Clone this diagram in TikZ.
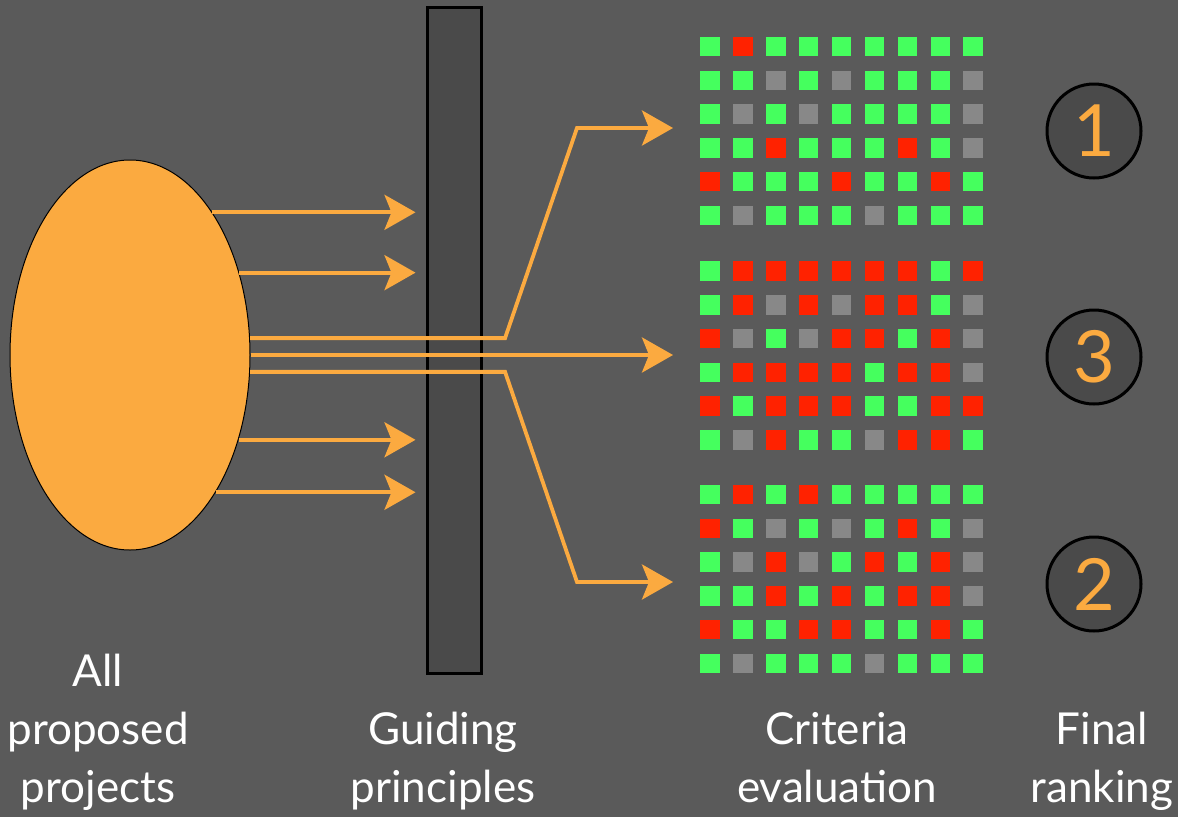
\documentclass[tikz,border=0pt]{standalone}
\usepackage{fontspec}
\setmainfont{Lato}
\usetikzlibrary{arrows.meta,shapes.geometric}

\definecolor{bgcol}{RGB}{90,90,90}
\definecolor{darkcol}{RGB}{74,74,74}
\definecolor{flowcol}{RGB}{251,170,64}
\definecolor{cellg}{RGB}{69,255,94}
\definecolor{cellr}{RGB}{255,34,0}
\definecolor{cellx}{RGB}{136,136,136}

\tikzset{
  flow/.style={draw=flowcol, line width=3.8pt, -{Stealth[length=31pt,width=35pt,inset=7pt]}},
  cell/.style={rectangle, inner sep=0pt, minimum size=19.5pt, fill=cell#1},
  rank/.style={circle, draw=black, line width=3pt, fill=darkcol, minimum size=94pt, inner sep=0pt, text=flowcol, font=\fontsize{72}{72}\selectfont},
  bottomtext/.style={anchor=south, align=center, inner sep=0pt, text=white, font=\fontsize{44}{58}\selectfont}
}

\begin{document}
\begin{tikzpicture}[x=1pt, y=-1pt]
        % Background
        \fill[bgcol] (0,0) rectangle (1178,817);
        \useasboundingbox (0,0) rectangle (1178,817);
        % Projects and filter
        \node[ellipse, draw=black, line width=1pt, fill=flowcol, minimum width=240pt, minimum height=390pt, inner sep=0pt] (proj) at (130,355) {};
        \node[rectangle, draw=black, line width=3pt, fill=darkcol, minimum width=54pt, minimum height=666pt, inner sep=0pt] (bar) at (454,340) {};
        % Rejected projects
        \foreach \a in {60,37.5,-38.2,-58.9} {
            \draw[flow] (proj.\a) -- ([xshift=-10pt]proj.\a -| bar.west);
        }
        % Projects passing the filter
        \coordinate (in1) at (673,128);
        \coordinate (in3) at (673,355);
        \coordinate (in2) at (673,582);
        \draw[flow] (proj.8.6) -- +(255pt,0) -- ([xshift=-96pt]in1) -- (in1);
        \draw[flow] (proj.0) -- (in3);
        \draw[flow] (proj.-8.1) -- +(255pt,0) -- ([xshift=-96pt]in2) -- (in2);
        % Criteria grids
        \foreach \cells [count=\j from 0] in {{g,r,g,g,g,g,g,g,g},{g,g,x,g,x,g,g,g,x},{g,x,g,x,g,g,g,g,x},{g,g,r,g,g,g,r,g,x},{r,g,g,g,r,g,g,r,g},{g,x,g,g,g,x,g,g,g}} {
            \foreach \c [count=\i from 0] in \cells
                \node[cell=\c] (a-\j-\i) at (710+32.9*\i, 46.5+33.8*\j) {};
        }
        \foreach \cells [count=\j from 0] in {{g,r,r,r,r,r,r,g,r},{g,r,x,r,x,r,r,g,x},{r,x,g,x,r,r,g,r,x},{g,r,r,r,r,g,r,r,x},{r,g,r,r,r,g,g,r,r},{g,x,r,g,g,x,r,r,g}} {
            \foreach \c [count=\i from 0] in \cells
                \node[cell=\c] (b-\j-\i) at (710+32.9*\i, 271+33.8*\j) {};
        }
        \foreach \cells [count=\j from 0] in {{g,r,g,r,g,g,g,g,g},{r,g,x,g,x,g,r,g,x},{g,x,r,x,g,r,g,r,x},{g,g,r,g,r,g,r,r,x},{r,g,g,r,r,g,g,r,g},{g,x,g,g,g,x,g,g,g}} {
            \foreach \c [count=\i from 0] in \cells
                \node[cell=\c] (c-\j-\i) at (710+32.9*\i, 494.5+33.8*\j) {};
        }
        % Ranking
        \node[rank] (rank1) at (1094,131) {1};
        \node[rank] (rank3) at (1094,357) {3};
        \node[rank] (rank2) at (1094,584) {2};
        % Column labels
        \node[bottomtext] (lblproj) at (98,820) {All\\proposed\\projects\strut};
        \node[bottomtext] (lblguide) at (443,820) {Guiding\\principles\strut};
        \node[bottomtext] (lblcrit) at (837,820) {Criteria\\evaluation\strut};
        \node[bottomtext] (lblrank) at (1102,820) {Final\\ranking\strut};
    \end{tikzpicture}
\end{document}
